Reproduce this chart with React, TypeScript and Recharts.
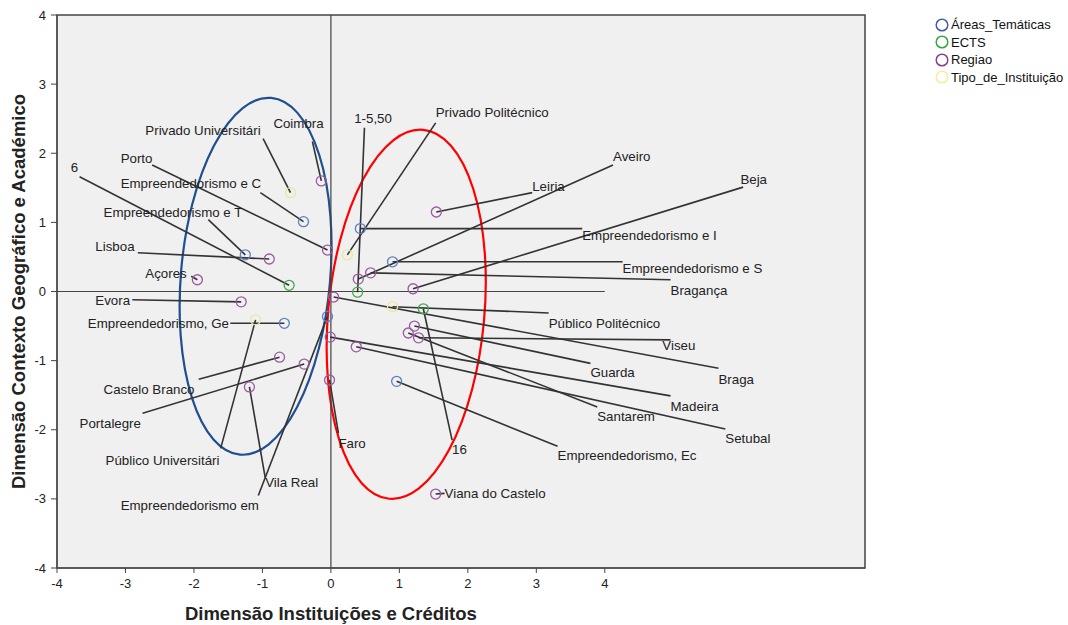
import React from 'react'
import { ScatterChart, Scatter, XAxis, YAxis, ReferenceLine, ReferenceArea } from 'recharts'

// pontos das categorias (coordenadas das dimensões)
const areasTematicas = [
  { name: 'Empreendedorismo e C', x: -0.40, y: 1.01 },
  { name: 'Empreendedorismo e T', x: -1.25, y: 0.53 },
  { name: 'Empreendedorismo e I', x: 0.43, y: 0.91 },
  { name: 'Empreendedorismo e S', x: 0.90, y: 0.43 },
  { name: 'Empreendedorismo, Ge', x: -0.68, y: -0.46 },
  { name: 'Empreendedorismo em', x: -0.05, y: -0.36 },
  { name: 'Empreendedorismo, Ec', x: 0.96, y: -1.30 },
]

const ects = [
  { name: '6', x: -0.61, y: 0.09 },
  { name: '1-5,50', x: 0.39, y: -0.01 },
  { name: '16', x: 1.35, y: -0.25 },
]

const regiao = [
  { name: 'Coimbra', x: -0.14, y: 1.60 },
  { name: 'Porto', x: -0.05, y: 0.60 },
  { name: 'Lisboa', x: -0.90, y: 0.47 },
  { name: 'Açores', x: -1.95, y: 0.17 },
  { name: 'Evora', x: -1.31, y: -0.15 },
  { name: 'Castelo Branco', x: -0.75, y: -0.95 },
  { name: 'Portalegre', x: -0.39, y: -1.05 },
  { name: 'Vila Real', x: -1.19, y: -1.38 },
  { name: 'Faro', x: -0.02, y: -1.28 },
  { name: 'Leiria', x: 1.54, y: 1.15 },
  { name: 'Aveiro', x: 0.40, y: 0.18 },
  { name: 'Beja', x: 1.20, y: 0.04 },
  { name: 'Bragança', x: 0.58, y: 0.27 },
  { name: 'Braga', x: 0.04, y: -0.08 },
  { name: 'Madeira', x: -0.01, y: -0.66 },
  { name: 'Setubal', x: 0.37, y: -0.80 },
  { name: 'Guarda', x: 1.22, y: -0.50 },
  { name: 'Santarem', x: 1.13, y: -0.60 },
  { name: 'Viseu', x: 1.28, y: -0.67 },
  { name: 'Viana do Castelo', x: 1.53, y: -2.93 },
]

const tipoInstituicao = [
  { name: 'Privado Universitári', x: -0.59, y: 1.43 },
  { name: 'Privado Politécnico', x: 0.24, y: 0.53 },
  { name: 'Público Universitári', x: -1.10, y: -0.41 },
  { name: 'Público Politécnico', x: 0.90, y: -0.22 },
]

// rótulos: [fim da linha x, y, início do texto x, y]
const labelSpots: Record<string, number[]> = {
  'Empreendedorismo e C': [-1.03, 1.43, -3.07, 1.56],
  'Empreendedorismo e T': [-1.79, 1.04, -3.32, 1.15],
  'Empreendedorismo e I': [3.67, 0.91, 3.67, 0.82],
  'Empreendedorismo e S': [4.26, 0.43, 4.26, 0.34],
  'Empreendedorismo, Ge': [-1.47, -0.46, -3.55, -0.46],
  'Empreendedorismo em': [-1.06, -2.95, -3.07, -3.09],
  'Empreendedorismo, Ec': [3.31, -2.24, 3.31, -2.37],
  '6': [-3.67, 1.66, -3.80, 1.80],
  '1-5,50': [0.49, 2.37, 0.34, 2.50],
  '16': [1.77, -2.15, 1.77, -2.28],
  'Coimbra': [-0.27, 2.17, -0.84, 2.43],
  'Porto': [-2.61, 1.83, -3.07, 1.93],
  'Lisboa': [-2.82, 0.56, -3.44, 0.66],
  'Açores': [-2.04, 0.22, -2.71, 0.27],
  'Evora': [-2.90, -0.12, -3.44, -0.12],
  'Castelo Branco': [-1.93, -1.27, -3.32, -1.41],
  'Portalegre': [-2.75, -1.76, -3.67, -1.91],
  'Vila Real': [-0.96, -2.69, -0.96, -2.76],
  'Faro': [0.11, -2.05, 0.11, -2.20],
  'Leiria': [2.94, 1.43, 2.94, 1.53],
  'Aveiro': [4.12, 1.83, 4.12, 1.95],
  'Beja': [6.02, 1.51, 5.98, 1.62],
  'Bragança': [4.96, 0.17, 4.96, 0.02],
  'Braga': [5.66, -1.11, 5.66, -1.27],
  'Madeira': [4.96, -1.51, 4.96, -1.66],
  'Setubal': [5.76, -1.99, 5.76, -2.12],
  'Guarda': [3.79, -1.04, 3.79, -1.17],
  'Santarem': [3.89, -1.67, 3.89, -1.80],
  'Viseu': [4.96, -0.70, 4.84, -0.78],
  'Viana do Castelo': [1.66, -2.92, 1.66, -2.92],
  'Privado Universitári': [-0.99, 2.21, -2.71, 2.34],
  'Privado Politécnico': [1.53, 2.44, 1.53, 2.59],
  'Público Universitári': [-1.61, -2.27, -3.29, -2.44],
  'Público Politécnico': [3.18, -0.31, 3.18, -0.46],
}

const axisTicks = [-4, -3, -2, -1, 0, 1, 2, 3, 4]

const groups = [
  { key: 'Áreas_Temáticas', data: areasTematicas, color: '#5f7fc0', legend: '#3f5dab' },
  { key: 'ECTS', data: ects, color: '#43a84c', legend: '#35a843' },
  { key: 'Regiao', data: regiao, color: '#9a5ba0', legend: '#8a3d96' },
  { key: 'Tipo_de_Instituição', data: tipoInstituicao, color: '#ece79a', legend: '#f2ee9c' },
]

const allPoints = groups.flatMap((g) => g.data)
const labelRows = allPoints.map((p) => ({ name: p.name, x: labelSpots[p.name][2], y: labelSpots[p.name][3] }))

const FONT = '"Liberation Sans", Arial, sans-serif'

const ring = (color: string) => (props: any) => (
  <circle cx={props.cx} cy={props.cy} r={5} fill="none" stroke={color} strokeWidth={1.3} />
)

const LabelText = (props: any) => (
  <text x={props.cx} y={props.cy} dy="0.36em" fontSize={13.3} fill="#222" fontFamily={FONT}>
    {props.payload.name}
  </text>
)

const ellipse = (color: string, angle: number) => (props: any) => {
  const { x, y, width, height } = props
  const cx = x + width / 2
  const cy = y + height / 2
  return (
    <ellipse cx={cx} cy={cy} rx={width / 2} ry={Math.abs(height) / 2} fill="none"
      stroke={color} strokeWidth={2.2} transform={`rotate(${angle} ${cx} ${cy})`} />
  )
}

const YTitle = (props: any) => {
  const { viewBox } = props
  const x = viewBox.x + 18
  const y = viewBox.y + viewBox.height / 2
  return (
    <text x={x} y={y} transform={`rotate(-90 ${x} ${y})`} textAnchor="middle" dominantBaseline="central"
      fontSize={18.5} fontWeight="bold" fill="#222" fontFamily={FONT}>
      Dimensão Contexto Geográfico e Académico
    </text>
  )
}

export default function App() {
  return (
    <div style={{ position: 'absolute', left: 0, top: 0, width: 1068, height: 625, background: '#fff', fontFamily: FONT }}>
      <ScatterChart width={1068} height={625} margin={{ top: 15, right: 203, bottom: 0, left: 0 }}>
        <XAxis type="number" dataKey="x" domain={[-4, 7.8]} ticks={axisTicks} allowDataOverflow
          height={57} tickSize={5} tickMargin={6} stroke="#444"
          tick={{ fontSize: 13, fill: '#222', fontFamily: FONT }} />
        <YAxis type="number" dataKey="y" domain={[-4, 4]} ticks={axisTicks} allowDataOverflow
          width={57} tickSize={6} tickMargin={5} stroke="#444"
          tick={{ fontSize: 13, fill: '#222', fontFamily: FONT }}
          label={<YTitle />} />

        <ReferenceArea x1={-4} x2={7.8} y1={-4} y2={4} fill="#f0f0f0" fillOpacity={1} stroke="#444" strokeWidth={1.5} />

        <ReferenceLine x={0} stroke="#444" strokeWidth={1.2}
          label={{ value: 'Dimensão Instituições e Créditos', position: 'bottom', offset: 39,
            style: { fontSize: 18.5, fontWeight: 'bold', fill: '#222', fontFamily: FONT } }} />
        <ReferenceLine segment={[{ x: -4, y: 0 }, { x: 4, y: 0 }]} stroke="#444" strokeWidth={1.2} />

        {allPoints.map((p) => (
          <ReferenceLine key={'l-' + p.name}
            segment={[{ x: p.x, y: p.y }, { x: labelSpots[p.name][0], y: labelSpots[p.name][1] }]}
            stroke="#333" strokeWidth={1.6} />
        ))}

        {groups.map((g) => (
          <Scatter key={g.key} name={g.key} data={g.data} shape={ring(g.color)} isAnimationActive={false} />
        ))}

        <Scatter name="rotulos" data={labelRows} shape={LabelText} isAnimationActive={false} />

        <ReferenceArea x1={-2.19} x2={-0.01} y1={-2.37} y2={2.81} shape={ellipse('#1f4f8f', 5)} ifOverflow="visible" />
        <ReferenceArea x1={-0.04} x2={2.24} y1={-3.01} y2={2.35} shape={ellipse('#ff0000', 5.3)} ifOverflow="visible" />
      </ScatterChart>

      <div style={{ position: 'absolute', left: 935, top: 16 }}>
        {groups.map((g) => (
          <div key={g.key} style={{ display: 'flex', alignItems: 'center', height: 17.5, fontSize: 13, color: '#111' }}>
            <svg width={14} height={14} style={{ marginRight: 2 }}>
              <circle cx={7} cy={7} r={5.8} fill="none" stroke={g.legend} strokeWidth={1.5} />
            </svg>
            <span>{g.key}</span>
          </div>
        ))}
      </div>
    </div>
  )
}
